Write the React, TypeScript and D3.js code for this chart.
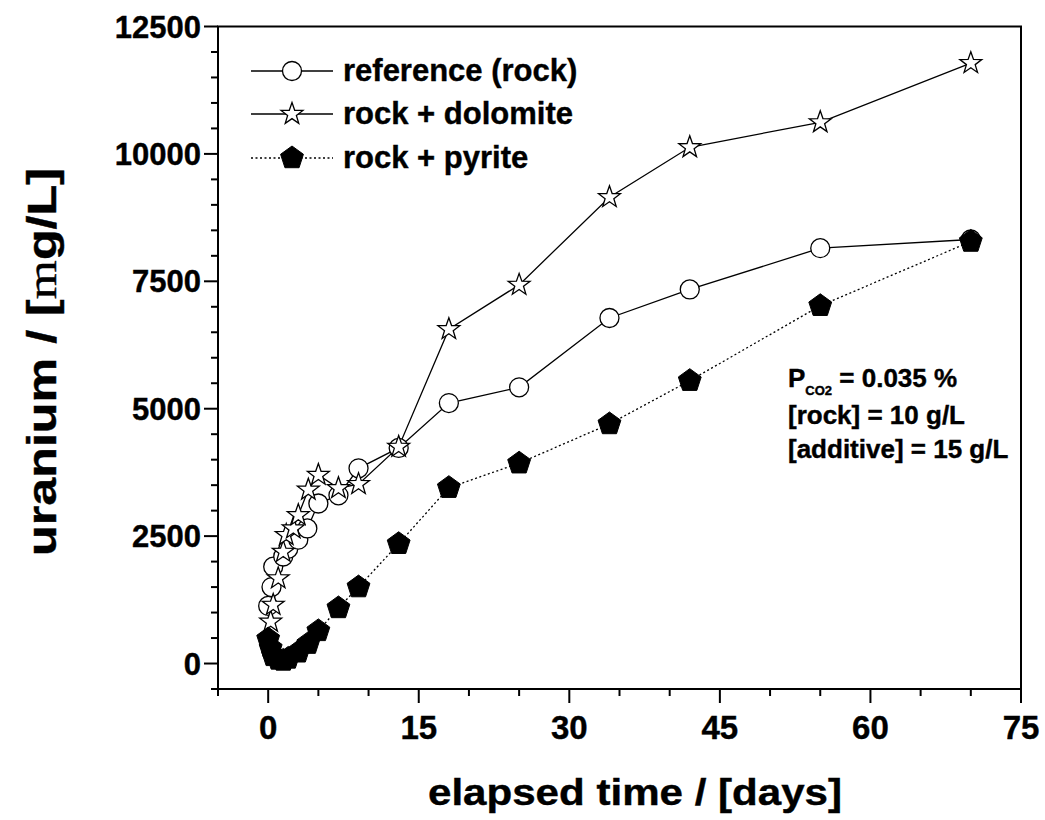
import React from "react";
import * as d3 from "d3";

const refDays = [0, 0.33, 0.5, 1.5, 2, 3, 3.9, 5, 7, 9, 13, 18, 25, 34, 42, 55, 70];
const refVals = [1130, 1500, 1900, 2100, 2250, 2430, 2650, 3140, 3300, 3830, 4230, 5110, 5420, 6780, 7340, 8150, 8320];

const dolDays = [0.25, 0.5, 1, 1.5, 1.8, 2.5, 3, 4, 5, 7, 9, 13, 18, 25, 34, 42, 55, 70];
const dolVals = [820, 1150, 1670, 2190, 2520, 2650, 2910, 3410, 3700, 3440, 3520, 4250, 6560, 7430, 9150, 10130, 10620, 11780];

const pyrDays = [0, 0.25, 0.5, 1, 1.5, 2, 3, 4, 5, 7, 9, 13, 18, 25, 34, 42, 55, 70];
const pyrVals = [480, 300, 150, 80, 60, 100, 220, 390, 640, 1090, 1500, 2350, 3450, 3930, 4700, 5550, 7020, 8280];

const xMajor = [0, 15, 30, 45, 60, 75];
const yMajor = [0, 2500, 5000, 7500, 10000, 12500];

const legendLabels = ["reference (rock)", "rock + dolomite", "rock + pyrite"];

const FONT = "'Liberation Sans', Arial, Helvetica, sans-serif";

function starPath(R: number, r: number) {
  const pts: string[] = [];
  for (let i = 0; i < 10; i++) {
    const a = -Math.PI / 2 + (i * Math.PI) / 5;
    const rr = i % 2 === 0 ? R : r;
    pts.push(`${(rr * Math.cos(a)).toFixed(2)},${(rr * Math.sin(a)).toFixed(2)}`);
  }
  return "M" + pts.join("L") + "Z";
}
function pentPath(R: number) {
  const pts: string[] = [];
  for (let i = 0; i < 5; i++) {
    const a = -Math.PI / 2 + (i * 2 * Math.PI) / 5;
    pts.push(`${(R * Math.cos(a)).toFixed(2)},${(R * Math.sin(a)).toFixed(2)}`);
  }
  return "M" + pts.join("L") + "Z";
}

export default function App() {
  const x = d3.scaleLinear().domain([-5, 75]).range([218, 1021]);
  const y = d3.scaleLinear().domain([-500, 12500]).range([689, 26.5]);
  const line = d3
    .line<[number, number]>()
    .x((d) => x(d[0]))
    .y((d) => y(d[1]));
  const ref = refDays.map((d, i) => [d, refVals[i]] as [number, number]);
  const dol = dolDays.map((d, i) => [d, dolVals[i]] as [number, number]);
  const pyr = pyrDays.map((d, i) => [d, pyrVals[i]] as [number, number]);
  const xMinor = d3.range(-5, 76, 5).filter((v) => !xMajor.includes(v));
  const yMinor = d3.range(-500, 12501, 500).filter((v) => !yMajor.includes(v));
  const star = starPath(11.5, 4.6);
  const pent = pentPath(12);
  const left = 218, right = 1021, top = 26.5, bottom = 689;
  const legY = [71, 114, 158];
  const txt = { stroke: "#000", strokeWidth: 0.4 };

  return (
    <svg
      width={1045}
      height={820}
      style={{ position: "absolute", left: 0, top: 0, background: "#fff" }}
      fontFamily={FONT}
      fontWeight="bold"
    >
      <rect x={0} y={0} width={1045} height={820} fill="#fff" />
      <path
        d={`M${left},${bottom}V${top}H${right}V${bottom}H${left}`}
        fill="none"
        stroke="#000"
        strokeWidth={2}
      />
      {yMajor.map((v) => (
        <g key={"ym" + v}>
          <line x1={left - 14} x2={left} y1={y(v)} y2={y(v)} stroke="#000" strokeWidth={2} />
          <text x={201} y={y(v)} dy="0.36em" textAnchor="end" fontSize={31} {...txt}>
            {v}
          </text>
        </g>
      ))}
      {yMinor.map((v) => (
        <line key={"yn" + v} x1={left - 7} x2={left} y1={y(v)} y2={y(v)} stroke="#000" strokeWidth={2} />
      ))}
      {xMajor.map((v) => (
        <g key={"xm" + v}>
          <line x1={x(v)} x2={x(v)} y1={bottom} y2={bottom + 14} stroke="#000" strokeWidth={2} />
          <text x={x(v)} y={739} textAnchor="middle" fontSize={33} {...txt}>
            {v}
          </text>
        </g>
      ))}
      {xMinor.map((v) => (
        <line key={"xn" + v} x1={x(v)} x2={x(v)} y1={bottom} y2={bottom + 7} stroke="#000" strokeWidth={2} />
      ))}
      <text x={635} y={805} textAnchor="middle" fontSize={37} textLength={414} lengthAdjust="spacingAndGlyphs" {...txt}>
        elapsed time / [days]
      </text>
      <text
        transform="translate(56,362) rotate(-90)"
        textAnchor="middle"
        fontSize={40}
        textLength={388}
        lengthAdjust="spacingAndGlyphs"
        {...txt}
      >
        uranium / [
        <tspan fontFamily="'Liberation Serif', 'Times New Roman', serif" fontWeight="normal">m</tspan>
        g/L]
      </text>
      <path d={line(ref) || ""} fill="none" stroke="#000" strokeWidth={1.3} />
      <path d={line(dol) || ""} fill="none" stroke="#000" strokeWidth={1.3} />
      <path d={line(pyr) || ""} fill="none" stroke="#000" strokeWidth={1.3} strokeDasharray="2,2.5" />
      {ref.map((d, i) => (
        <circle key={"c" + i} cx={x(d[0])} cy={y(d[1])} r={9.5} fill="#fff" stroke="#000" strokeWidth={1.3} />
      ))}
      {dol.map((d, i) => (
        <path
          key={"s" + i}
          d={star}
          transform={`translate(${x(d[0])},${y(d[1])})`}
          fill="#fff"
          stroke="#000"
          strokeWidth={1.3}
        />
      ))}
      {pyr.map((d, i) => (
        <path key={"p" + i} d={pent} transform={`translate(${x(d[0])},${y(d[1])})`} fill="#000" stroke="#000" strokeWidth={1} />
      ))}
      <line x1={251} x2={333} y1={legY[0]} y2={legY[0]} stroke="#000" strokeWidth={1.3} />
      <circle cx={292} cy={legY[0]} r={9.5} fill="#fff" stroke="#000" strokeWidth={1.3} />
      <line x1={251} x2={333} y1={legY[1]} y2={legY[1]} stroke="#000" strokeWidth={1.3} />
      <path d={star} transform={`translate(292,${legY[1]})`} fill="#fff" stroke="#000" strokeWidth={1.3} />
      <line x1={251} x2={333} y1={legY[2]} y2={legY[2]} stroke="#000" strokeWidth={1.3} strokeDasharray="2,2.5" />
      <path d={pent} transform={`translate(292,${legY[2]})`} fill="#000" stroke="#000" strokeWidth={1} />
      {legendLabels.map((t, i) => (
        <text key={t} x={343} y={legY[i] + 10} fontSize={31} {...txt}>
          {t}
        </text>
      ))}
      <text x={788} y={387} fontSize={26} {...txt}>
        P
        <tspan fontSize={13} dy={8}>CO2</tspan>
        <tspan dy={-8}> = 0.035 %</tspan>
      </text>
      <text x={788} y={424} fontSize={26} {...txt}>
        [rock] = 10 g/L
      </text>
      <text x={788} y={458} fontSize={26} {...txt}>
        [additive] = 15 g/L
      </text>
    </svg>
  );
}
